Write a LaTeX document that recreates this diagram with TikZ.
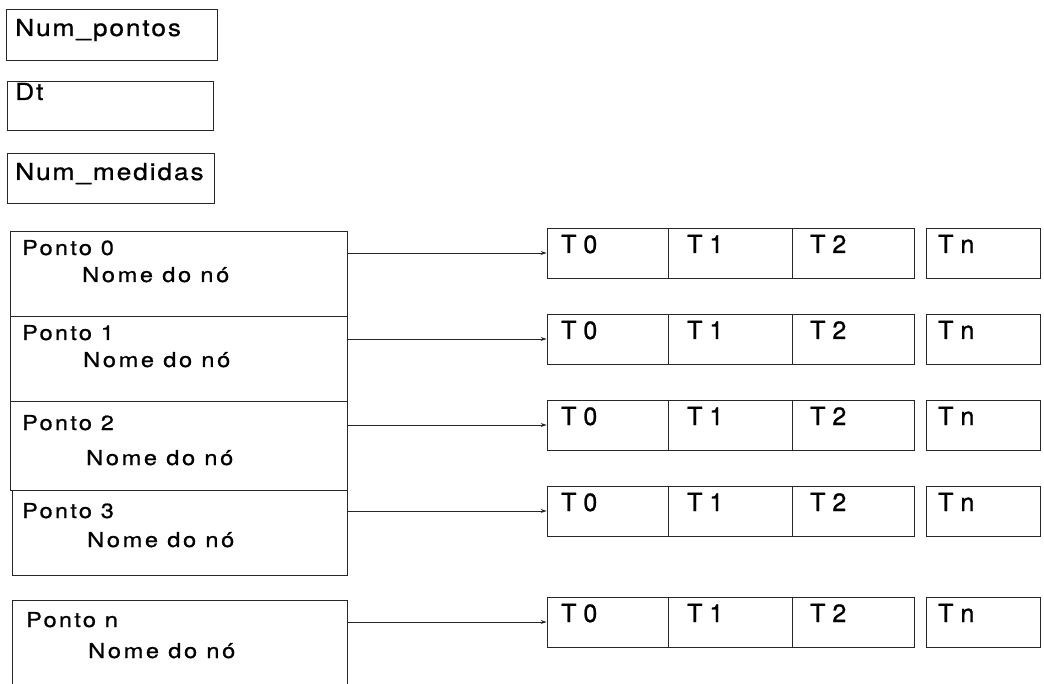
\documentclass[tikz,border=0pt]{standalone}
\usepackage{fontspec}
\setmainfont{TeX Gyre Heros}
\newfontfamily\ptfont{TeX Gyre Heros}[FakeStretch=1.15,LetterSpace=11,FakeBold=0.8]
\newfontfamily\nmfont{TeX Gyre Heros}[FakeStretch=1.15,LetterSpace=13,FakeBold=0.8]
\newfontfamily\topfont{TeX Gyre Heros}[FakeStretch=1.12,LetterSpace=8,FakeBold=0.8]
\newfontfamily\tfont{TeX Gyre Heros}[FakeBold=1]
\usetikzlibrary{arrows.meta,fit}
\begin{document}
\begin{tikzpicture}[x=1pt,y=-1pt,
  box/.style={draw=black!85, line width=0.9pt, inner sep=0pt},
  toptxt/.style={anchor=base west, inner sep=0pt, font=\topfont\fontsize{23.5}{26}\selectfont},
  pttxt/.style={anchor=base west, inner sep=0pt, font=\ptfont\fontsize{20.5}{24}\selectfont},
  nmtxt/.style={anchor=base west, inner sep=0pt, font=\nmfont\fontsize{20.5}{24}\selectfont},
  ttxt/.style={anchor=base west, inner sep=0pt, font=\tfont\fontsize{25}{28}\selectfont},
  arr/.style={draw=black!85, line width=0.8pt, -{Stealth[length=6pt,width=4pt]}}]
\useasboundingbox (0,0) rectangle (1044,684);

% top boxes
\node[box, fit={(6,9) (217,60)}] (np) {};
\node[toptxt] (npt) at (15,36) {Num\_pontos};
\node[box, fit={(7,81) (213,130)}] (dt) {};
\node[toptxt] (dtt) at (15,100) {Dt};
\node[box, fit={(7,153) (214,203)}] (nm) {};
\node[toptxt] (nmt) at (15,180) {Num\_medidas};

% left boxes
\node[box, fit={(10,231) (347,316)}] (p0) {};
\node[pttxt] (p0a) at (22,255) {Ponto 0};
\node[nmtxt] (p0b) at (82,282) {Nome do nó};
\node[box, fit={(10,316) (347,401)}] (p1) {};
\node[pttxt] (p1a) at (22,340) {Ponto 1};
\node[nmtxt] (p1b) at (83,367) {Nome do nó};
\node[box, fit={(10,401) (347,490)}] (p2) {};
\node[pttxt] (p2a) at (22,430) {Ponto 2};
\node[nmtxt] (p2b) at (86,465) {Nome do nó};
\node[box, fit={(12,490) (347,575)}] (p3) {};
\node[pttxt] (p3a) at (22,518) {Ponto 3};
\node[nmtxt] (p3b) at (87,547) {Nome do nó};
\node[box, fit={(12,600) (347,692)}] (pn) {};
\node[pttxt] (pna) at (26,627) {Ponto n};
\node[nmtxt] (pnb) at (88,658) {Nome do nó};

% right cells
\foreach \i/\t in {0/228,1/314,2/400,3/486,n/597}{
  \node[box, fit={(547,\t) (668,\t+50)}] (a\i) {};
  \node[box, fit={(668,\t) (792,\t+50)}] (b\i) {};
  \node[box, fit={(792,\t) (914,\t+50)}] (c\i) {};
  \node[box, fit={(926,\t) (1040,\t+50)}] (d\i) {};
  \node[ttxt] (ta\i) at (561,\t+25) {T 0};
  \node[ttxt] (tb\i) at (687,\t+25) {T 1};
  \node[ttxt] (tc\i) at (810,\t+25) {T 2};
  \node[ttxt] (td\i) at (938,\t+25) {T n};
  \draw[arr] (p\i.east |- a\i.west) -- (a\i.west);
}
\end{tikzpicture}
\end{document}
